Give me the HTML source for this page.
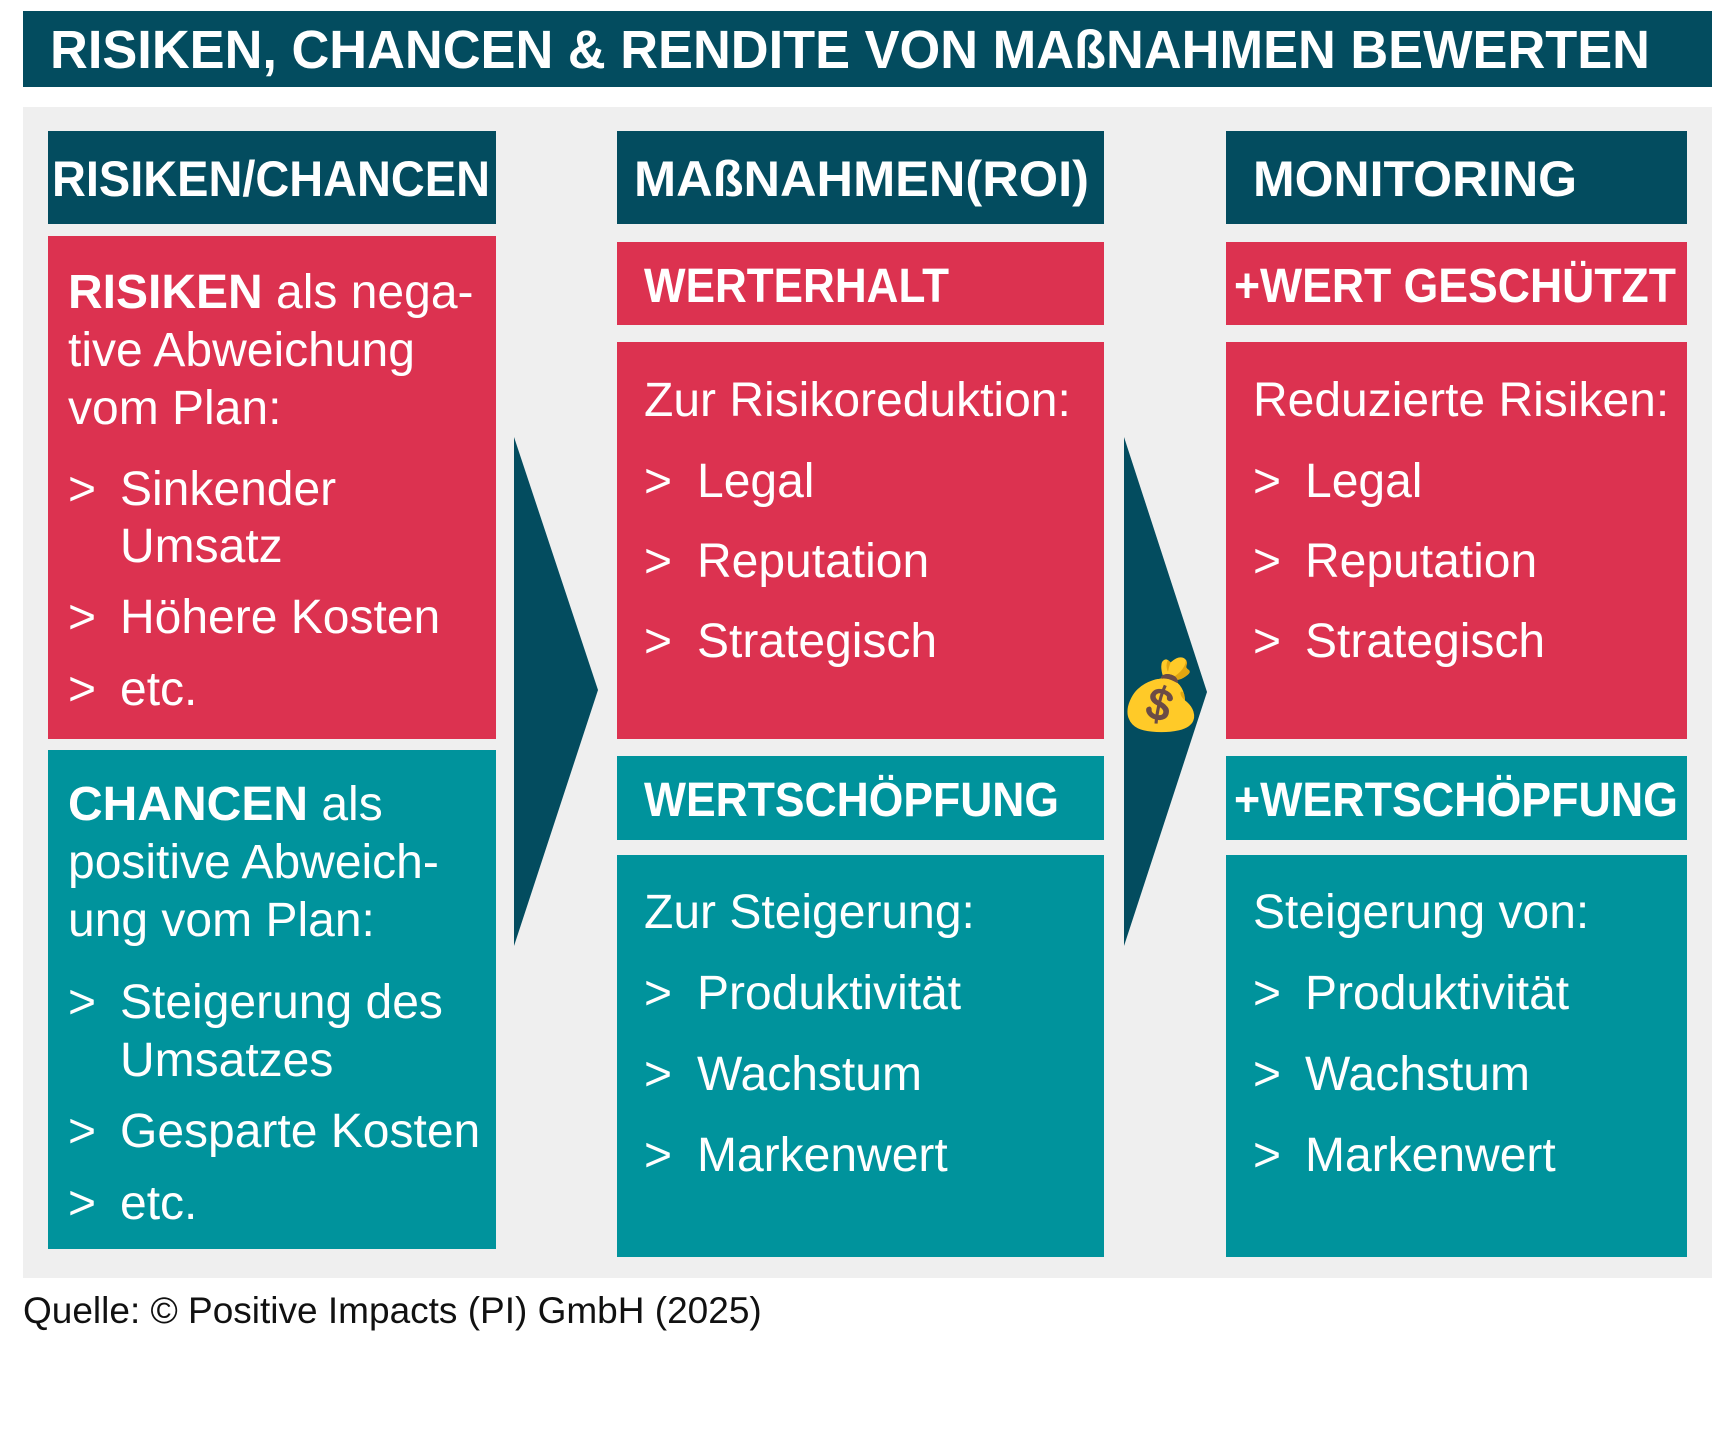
<!DOCTYPE html>
<html><head><meta charset="utf-8"><style>
html,body{margin:0;padding:0;background:#fff;width:1712px;height:1447px;overflow:hidden}
text{font-family:"Liberation Sans Narrow","Liberation Sans",sans-serif;fill:#fff}
.b{font-weight:bold}
</style></head><body>
<svg width="1712" height="1447" xmlns="http://www.w3.org/2000/svg">
<rect x="23" y="11" width="1689" height="76" fill="#034c5f"/>
<text x="50" y="68" font-size="54" class="b" textLength="1600" lengthAdjust="spacingAndGlyphs">RISIKEN, CHANCEN &amp; RENDITE VON MAßNAHMEN BEWERTEN</text>
<rect x="23" y="107" width="1689" height="1171" fill="#efefef"/>
<!-- col1 -->
<rect x="48" y="131" width="448" height="93" fill="#034c5f"/>
<text x="52" y="196" font-size="50" class="b" textLength="438" lengthAdjust="spacingAndGlyphs">RISIKEN/CHANCEN</text>
<rect x="48" y="236" width="448" height="503" fill="#dc3250"/>
<g font-size="48">
<text x="68" y="308"><tspan class="b">RISIKEN</tspan> als nega-</text>
<text x="68" y="366">tive Abweichung</text>
<text x="68" y="424">vom Plan:</text>
<text x="68" y="505">&gt;</text><text x="120" y="505">Sinkender</text>
<text x="120" y="562">Umsatz</text>
<text x="68" y="633">&gt;</text><text x="120" y="633">Höhere Kosten</text>
<text x="68" y="705">&gt;</text><text x="120" y="705">etc.</text>
</g>
<rect x="48" y="750" width="448" height="499" fill="#00939c"/>
<g font-size="48">
<text x="68" y="820"><tspan class="b">CHANCEN</tspan> als</text>
<text x="68" y="878">positive Abweich-</text>
<text x="68" y="936">ung vom Plan:</text>
<text x="68" y="1018">&gt;</text><text x="120" y="1018">Steigerung des</text>
<text x="120" y="1076">Umsatzes</text>
<text x="68" y="1147">&gt;</text><text x="120" y="1147">Gesparte Kosten</text>
<text x="68" y="1219">&gt;</text><text x="120" y="1219">etc.</text>
</g>
<polygon points="514,437 598,690 514,946" fill="#034c5f"/>
<!-- col2 -->
<rect x="617" y="131" width="487" height="93" fill="#034c5f"/>
<text x="634" y="196" font-size="50" class="b" textLength="455" lengthAdjust="spacingAndGlyphs">MAßNAHMEN(ROI)</text>
<rect x="617" y="242" width="487" height="83" fill="#dc3250"/>
<text x="644" y="302" font-size="48" class="b" textLength="305" lengthAdjust="spacingAndGlyphs">WERTERHALT</text>
<rect x="617" y="342" width="487" height="397" fill="#dc3250"/>
<g font-size="48">
<text x="644" y="416">Zur Risikoreduktion:</text>
<text x="644" y="497">&gt;</text><text x="697" y="497">Legal</text>
<text x="644" y="577">&gt;</text><text x="697" y="577">Reputation</text>
<text x="644" y="657">&gt;</text><text x="697" y="657">Strategisch</text>
</g>
<rect x="617" y="756" width="487" height="84" fill="#00939c"/>
<text x="644" y="816" font-size="48" class="b" textLength="415" lengthAdjust="spacingAndGlyphs">WERTSCHÖPFUNG</text>
<rect x="617" y="855" width="487" height="402" fill="#00939c"/>
<g font-size="48">
<text x="644" y="928">Zur Steigerung:</text>
<text x="644" y="1009">&gt;</text><text x="697" y="1009">Produktivität</text>
<text x="644" y="1090">&gt;</text><text x="697" y="1090">Wachstum</text>
<text x="644" y="1171">&gt;</text><text x="697" y="1171">Markenwert</text>
</g>
<polygon points="1124,437 1207,692 1124,946" fill="#034c5f"/>
<text x="1161" y="718" font-size="68" text-anchor="middle" style="fill:#e8a33a">💰</text>
<!-- col3 -->
<rect x="1226" y="131" width="461" height="93" fill="#034c5f"/>
<text x="1253" y="196" font-size="50" class="b">MONITORING</text>
<rect x="1226" y="242" width="461" height="83" fill="#dc3250"/>
<text x="1234" y="302" font-size="48" class="b" textLength="442" lengthAdjust="spacingAndGlyphs">+WERT GESCHÜTZT</text>
<rect x="1226" y="342" width="461" height="397" fill="#dc3250"/>
<g font-size="48">
<text x="1253" y="416">Reduzierte Risiken:</text>
<text x="1253" y="497">&gt;</text><text x="1305" y="497">Legal</text>
<text x="1253" y="577">&gt;</text><text x="1305" y="577">Reputation</text>
<text x="1253" y="657">&gt;</text><text x="1305" y="657">Strategisch</text>
</g>
<rect x="1226" y="756" width="461" height="84" fill="#00939c"/>
<text x="1234" y="816" font-size="48" class="b" textLength="444" lengthAdjust="spacingAndGlyphs">+WERTSCHÖPFUNG</text>
<rect x="1226" y="855" width="461" height="402" fill="#00939c"/>
<g font-size="48">
<text x="1253" y="928">Steigerung von:</text>
<text x="1253" y="1009">&gt;</text><text x="1305" y="1009">Produktivität</text>
<text x="1253" y="1090">&gt;</text><text x="1305" y="1090">Wachstum</text>
<text x="1253" y="1171">&gt;</text><text x="1305" y="1171">Markenwert</text>
</g>
<text x="23" y="1323" font-size="37" style="fill:#111">Quelle: © Positive Impacts (PI) GmbH (2025)</text>
</svg>
</body></html>
